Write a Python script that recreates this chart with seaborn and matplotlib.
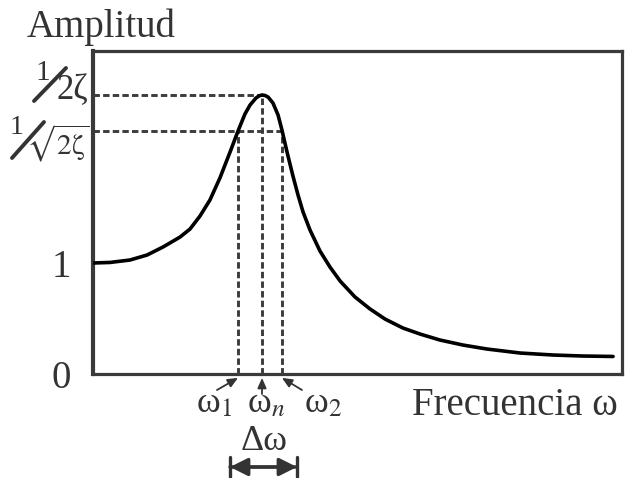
import numpy as np
import pandas as pd
import seaborn as sns
import matplotlib
matplotlib.use("Agg")
import matplotlib.pyplot as plt
import matplotlib.transforms as mtransforms

# ---- data (frequency ratio w/wn, amplitude) ----
freq = [0.0, 0.101, 0.219, 0.320, 0.414, 0.515, 0.574, 0.633, 0.692, 0.751,
        0.781, 0.811, 0.858, 0.899, 0.929, 0.964, 0.982, 1.0, 1.018, 1.036,
        1.065, 1.095, 1.118, 1.148, 1.183, 1.213, 1.243, 1.284, 1.343, 1.402,
        1.462, 1.550, 1.639, 1.728, 1.834, 1.935, 2.053, 2.189, 2.331, 2.527,
        2.722, 2.899, 3.077]
amp = [1.000, 1.005, 1.027, 1.072, 1.144, 1.234, 1.306, 1.423, 1.568, 1.766,
       1.883, 2.000, 2.189, 2.342, 2.423, 2.486, 2.505, 2.514, 2.509, 2.495,
       2.441, 2.333, 2.198, 2.000, 1.784, 1.613, 1.459, 1.297, 1.108, 0.964,
       0.838, 0.694, 0.586, 0.495, 0.414, 0.360, 0.306, 0.261, 0.225, 0.189,
       0.171, 0.162, 0.158]
omega_1, omega_n, omega_2 = 0.858, 1.0, 1.118
amp_peak = 2.514
amp_half = 2.19
ytick_vals = [0, 1]
ytick_labels = ["0", "1"]

sns.set_theme(style="white")
plt.rcParams["font.family"] = ["Liberation Serif", "DejaVu Serif"]
plt.rcParams["mathtext.fontset"] = "stix"

W, H = 626, 478
TXT = "#333333"
fig = plt.figure(figsize=(W / 100, H / 100), dpi=100)
ax = fig.add_axes([93 / W, 1 - 374 / H, (622 - 93) / W, (374 - 51) / H])

# pixel transform (reference image coordinates)
P = mtransforms.Affine2D().scale(1 / W, -1 / H).translate(0, 1) + fig.transFigure

df = pd.DataFrame({"freq": freq, "amp": amp})
sns.lineplot(data=df, x="freq", y="amp", color="black", lw=2.6, ax=ax, zorder=5)
ax.lines[-1].set_solid_joinstyle("round")

dash = dict(color="#3c3c3c", lw=2.1, ls=(0, (2.2, 1.1)), zorder=3)
ax.plot([0, omega_n], [amp_peak, amp_peak], **dash)
ax.plot([0, omega_2], [amp_half, amp_half], **dash)
ax.plot([omega_1, omega_1], [0, amp_half], **dash)
ax.plot([omega_n, omega_n], [0, amp_peak], **dash)
ax.plot([omega_2, omega_2], [0, amp_half], **dash)

ax.set_xlim(0, 3.13)
ax.set_ylim(0, 2.91)
ax.set_xlabel("")
ax.set_ylabel("")
ax.set_xticks([])
ax.set_yticks(ytick_vals, ytick_labels)
ax.tick_params(axis="y", length=0, pad=16, labelsize=28, labelcolor=TXT)
for name, s in ax.spines.items():
    s.set_visible(True)
    s.set_color("#3a3a3a")
    s.set_linewidth(2.3)
ax.spines["left"].set_linewidth(3.0)

# axis titles
fig.text(27 / W, 1 - 37 / H, "Amplitud", fontsize=28, color=TXT, ha="left", va="baseline")
fig.text(412 / W, 1 - 415 / H, "Frecuencia ω", fontsize=28, color=TXT, ha="left", va="baseline")

# fraction labels 1/(2ζ) and 1/(√2ζ)
fig.text(43 / W, 1 - 73 / H, "1", fontsize=21, color=TXT, ha="center", va="center")
fig.text(72 / W, 1 - 91 / H, "2ζ", fontsize=25, color=TXT, ha="center", va="center")
fig.add_artist(plt.Line2D([34 / W, 66 / W], [1 - 101 / H, 1 - 68 / H], color=TXT, lw=2.8))

fig.text(17 / W, 1 - 127 / H, "1", fontsize=20, color=TXT, ha="center", va="center")
fig.text(58 / W, 1 - 143 / H, r"$\sqrt{\mathrm{2ζ}}$", fontsize=21, color=TXT, ha="center", va="center")
fig.add_artist(plt.Line2D([12 / W, 44 / W], [1 - 158 / H, 1 - 122 / H], color=TXT, lw=2.8))

# omega labels with arrows
for label, cx in [("ω$_1$", 214), ("ω$_n$", 266), ("ω$_2$", 323)]:
    fig.text(cx / W, 1 - 404 / H, label, fontsize=26, color=TXT, ha="center", va="center")

arr = dict(arrowstyle="-|>,head_length=0.5,head_width=0.22", color=TXT, lw=1.3,
           shrinkA=0, shrinkB=0)
for xv, start in [(omega_1, (217, 390)), (omega_n, (262, 394)), (omega_2, (302, 390))]:
    ax.annotate("", xy=(xv, -0.035), xycoords="data", xytext=start, textcoords=P,
                arrowprops=arr, annotation_clip=False)

# delta omega
fig.text(264 / W, 1 - 442 / H, "Δω", fontsize=26, color=TXT, ha="center", va="center")
ax.annotate("", xy=(297, 467), xycoords=P, xytext=(230, 467), textcoords=P,
            arrowprops=dict(arrowstyle="<|-|>,head_length=0.9,head_width=0.45",
                            color=TXT, lw=2.4, shrinkA=0, shrinkB=0),
            annotation_clip=False)
ax.annotate("", xy=(297, 467), xycoords=P, xytext=(230, 467), textcoords=P,
            arrowprops=dict(arrowstyle="|-|,widthA=0.6,widthB=0.6",
                            color=TXT, lw=2.4, shrinkA=0, shrinkB=0),
            annotation_clip=False)

fig.savefig("out.png", dpi=100, facecolor="white")
